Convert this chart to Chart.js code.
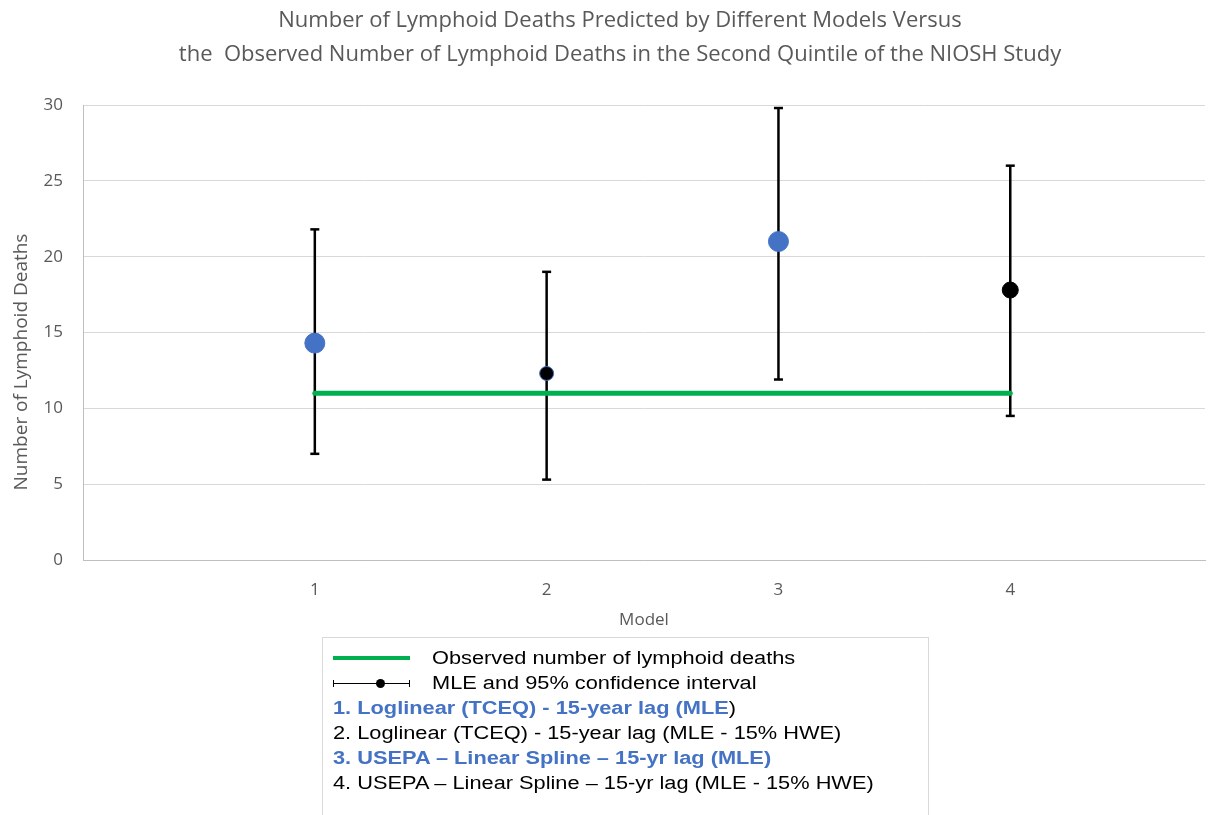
<!DOCTYPE html>
<html>
<head>
<meta charset="utf-8">
<script src="https://cdn.jsdelivr.net/npm/chart.js@4.4.1/dist/chart.umd.min.js"></script>
<style>
  body { margin: 0; background: #fff; width: 1210px; height: 815px; overflow: hidden; position: relative; }
  #wrap { position: absolute; left: 0; top: 0; width: 1216px; height: 640px; }
  #title {
    position: absolute; left: 0; top: 1px; width: 1240px; text-align: center;
    font-family: "Open Sans", sans-serif; font-size: 22px; line-height: 34px; color: #595959;
    white-space: pre;
  }
  #ytitle {
    position: absolute; left: 20px; top: 362px; width: 300px; margin-left: -150px; margin-top: -13px;
    height: 26px; line-height: 26px; text-align: center; transform: rotate(-90deg);
    font-family: "Open Sans", sans-serif; font-size: 19px; color: #595959; white-space: nowrap;
  }
  #legend {
    position: absolute; left: 322px; top: 637px; width: 607px; height: 200px;
    border: 1px solid #d9d9d9; box-sizing: border-box;
    font-family: "Liberation Sans", Arial, sans-serif; font-size: 18px; color: #000;
    padding: 8px 0 0 10px;
  }
  #legend .row { height: 25px; line-height: 25px; white-space: nowrap; position: relative; }
  #legend .txt { display: inline-block; transform: scaleX(1.21); transform-origin: left center; }
  #legend .sample { display: inline-block; width: 77px; height: 25px; vertical-align: top; position: relative; margin-right: 22px; }
  .green { position: absolute; left: 0; right: 0; top: 10px; height: 4px; background: #00B050; }
  .bar { position: absolute; left: 0; right: 0; top: 12px; height: 1px; background: #000; }
  .tick { position: absolute; top: 9px; width: 1px; height: 7px; background: #000; }
  .dot { position: absolute; left: 43px; top: 8px; width: 9px; height: 9px; border-radius: 50%; background: #000; }
  .blue { color: #4472C4; font-weight: bold; }
</style>
</head>
<body>
<div id="wrap"><canvas id="chart"></canvas></div>
<div id="title">Number of Lymphoid Deaths Predicted by Different Models Versus
the  Observed Number of Lymphoid Deaths in the Second Quintile of the NIOSH Study</div>
<div id="ytitle">Number of Lymphoid Deaths</div>
<div id="legend">
  <div class="row"><span class="sample"><span class="green"></span></span><span class="txt">Observed number of lymphoid deaths</span></div>
  <div class="row"><span class="sample"><span class="bar"></span><span class="tick" style="left:0"></span><span class="tick" style="right:0"></span><span class="dot"></span></span><span class="txt">MLE and 95% confidence interval</span></div>
  <div class="row"><span class="txt"><span class="blue">1. Loglinear (TCEQ) - 15-year lag (MLE</span>)</span></div>
  <div class="row"><span class="txt">2. Loglinear (TCEQ) - 15-year lag (MLE - 15% HWE)</span></div>
  <div class="row"><span class="txt"><span class="blue">3. USEPA – Linear Spline – 15-yr lag (MLE)</span></span></div>
  <div class="row"><span class="txt">4. USEPA – Linear Spline – 15-yr lag (MLE - 15% HWE)</span></div>
</div>
<script>
// data
const models = [1, 2, 3, 4];
const mle = [14.3, 12.3, 21.0, 17.8];
const ciLow = [7.0, 5.3, 11.9, 9.5];
const ciHigh = [21.8, 19.0, 29.8, 26.0];
const observed = 11;
const yTicks = [0, 5, 10, 15, 20, 25, 30];

const blue = '#4472C4';
const grey = '#595959';
const font = '"Open Sans", "Liberation Sans", sans-serif';

const datasets = [];

// points on top
datasets.push({
    type: 'line',
    data: models.map((m, i) => ({ x: m, y: mle[i] })),
    showLine: false,
    order: 0,
    pointRadius: [10, 7, 10, 8],
    pointBackgroundColor: [blue, '#000', blue, '#000'],
    pointBorderColor: [blue, blue, blue, '#000'],
    pointBorderWidth: 1
});

// observed line
datasets.push({
    type: 'line',
    data: [{ x: models[0], y: observed }, { x: models[models.length - 1], y: observed }],
    borderColor: '#00B050',
    borderWidth: 5,
    borderCapStyle: 'round',
    pointRadius: 0,
    order: 1
});

// error bars with caps
models.forEach((m, i) => {
    datasets.push({
        type: 'line',
        data: [{ x: m, y: ciLow[i] }, { x: m, y: ciHigh[i] }],
        borderColor: '#000',
        borderWidth: 2.5,
        pointStyle: 'line',
        pointRadius: 4.5,
        pointBorderWidth: 2.5,
        pointBorderColor: '#000',
        order: 2
    });
});

new Chart(document.getElementById('chart'), {
    type: 'line',
    data: { datasets: datasets },
    options: {
        responsive: true,
        maintainAspectRatio: false,
        animation: false,
        layout: { padding: { left: 0, right: 0, top: 105, bottom: 10 } },
        plugins: {
            legend: { display: false },
            tooltip: { enabled: false },
            title: { display: false }
        },
        scales: {
            x: {
                type: 'linear',
                min: 0,
                max: 4.84,
                grid: { display: false },
                border: { display: true, color: '#bfbfbf', width: 1 },
                ticks: {
                    stepSize: 1,
                    includeBounds: false,
                    color: grey,
                    font: { family: font, size: 17 },
                    padding: 12,
                    callback: v => (v >= 1 && v <= 4 && Number.isInteger(v)) ? v : ''
                },
                title: {
                    display: true, text: 'Model', color: grey,
                    font: { family: font, size: 17 }, padding: { top: 6, bottom: 0 }
                },
                afterFit: s => { s.height = 70; }
            },
            y: {
                min: 0,
                max: 30,
                afterBuildTicks: s => { s.ticks = yTicks.map(v => ({ value: v })); },
                grid: { color: '#d9d9d9', drawTicks: false },
                border: { display: true, color: '#bfbfbf', width: 1 },
                ticks: {
                    color: grey,
                    font: { family: font, size: 17 },
                    padding: 20
                },
                title: { display: false },
                afterFit: s => { s.width = 83; }
            }
        }
    }
});
</script>
</body>
</html>
